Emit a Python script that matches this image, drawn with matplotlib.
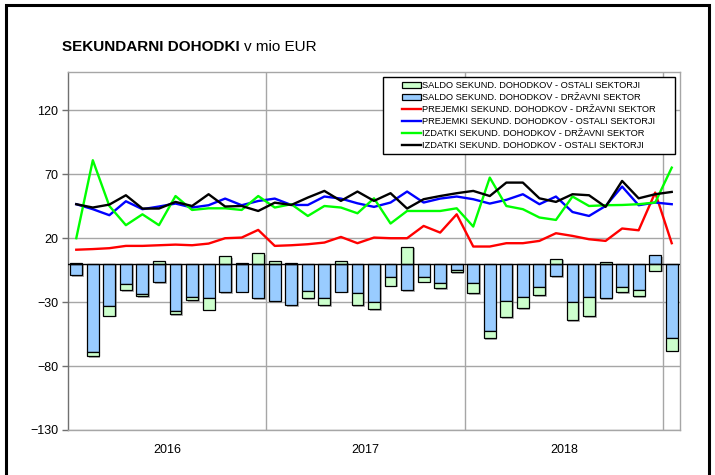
import numpy as np
import matplotlib
matplotlib.use("Agg")
import matplotlib.pyplot as plt
import matplotlib.patheffects as pe
from matplotlib.patches import Patch, Rectangle
from matplotlib.lines import Line2D

plt.rcParams["font.family"] = ["Liberation Sans", "DejaVu Sans"]

# ===================== DATA (mio EUR, monthly Jan 2016 - Jan 2019) =====================
years = ["2016", "2017", "2018"]

saldo_drzavni = [
    -9.0, -69.3, -32.9, -16.2, -23.8, -14.6, -37.3, -26.3, -26.9, -22.4, -21.9, -26.9,
    -29.2, -32.3, -21.2, -27.1, -21.7, -23.0, -30.2, -10.2, -20.6, -10.7, -15.4, -4.8,
    -15.2, -52.9, -29.2, -26.3, -18.5, -9.9, -30.2, -25.8, -27.1, -18.0, -20.4, 7.0,
    -58.4,
]
saldo_ostali = [
    0.5, -3.0, -7.8, -4.4, -1.3, 1.8, -2.3, -1.9, -9.1, 6.2, 0.5, 8.3,
    1.8, 0.5, -5.7, -5.2, 2.3, -9.3, -5.3, -7.0, 13.5, -3.4, -3.7, -2.0,
    -7.8, -5.2, -12.8, -8.4, -5.8, 3.9, -13.8, -15.4, 1.6, -4.4, -5.1, -5.5,
    -9.6,
]
prejemki_drzavni = [
    11.0, 11.5, 12.2, 14.0, 14.0, 14.5, 15.0, 14.5, 15.8, 20.0, 20.5, 26.5,
    14.0, 14.5, 15.3, 16.6, 21.0, 16.1, 20.5, 20.0, 20.0, 29.6, 24.4, 38.7,
    13.5, 13.5, 16.1, 16.1, 17.9, 23.9, 21.8, 19.2, 17.9, 27.6, 26.2, 55.7,
    16.1,
]
prejemki_ostali = [
    46.6, 42.7, 38.0, 48.9, 42.7, 44.8, 47.1, 44.0, 45.8, 51.0, 45.8, 49.1,
    51.0, 46.0, 46.0, 52.6, 51.0, 47.3, 44.5, 47.9, 56.5, 47.9, 51.0, 52.6,
    50.5, 47.1, 50.0, 54.4, 46.6, 52.6, 40.5, 37.4, 45.2, 60.4, 45.8, 47.9,
    46.6,
]
izdatki_drzavni = [
    20.0, 81.0, 45.2, 30.2, 38.7, 30.2, 53.0, 42.1, 43.4, 43.4, 42.1, 53.0,
    44.0, 46.6, 37.4, 45.2, 44.0, 39.5, 51.2, 31.5, 41.3, 41.3, 41.3, 43.4,
    29.1, 67.4, 45.2, 42.7, 36.2, 34.3, 52.6, 45.2, 45.8, 46.0, 46.6, 47.9,
    75.2,
]
izdatki_ostali = [
    46.6, 44.0, 46.3, 53.6, 43.2, 43.2, 48.4, 45.2, 54.4, 44.8, 45.2, 41.3,
    47.8, 46.0, 51.8, 57.0, 49.2, 56.5, 49.2, 55.2, 43.2, 50.5, 53.0, 55.2,
    57.0, 53.0, 63.5, 63.5, 51.2, 48.4, 54.4, 53.6, 44.5, 64.8, 51.2, 54.4,
    56.2,
]

labels = [
    "SALDO SEKUND. DOHODKOV - OSTALI SEKTORJI",
    "SALDO SEKUND. DOHODKOV - DRŽAVNI SEKTOR",
    "PREJEMKI SEKUND. DOHODKOV - DRŽAVNI SEKTOR",
    "PREJEMKI SEKUND. DOHODKOV - OSTALI SEKTORJI",
    "IZDATKI SEKUND. DOHODKOV - DRŽAVNI SEKTOR",
    "IZDATKI SEKUND. DOHODKOV - OSTALI SEKTORJI",
]

# ===================== PLOT =====================
W, H = 715, 475
n = len(saldo_drzavni)
x = np.arange(n)
sd = np.array(saldo_drzavni)
so = np.array(saldo_ostali)
# stack green on blue only where both have the same sign
bottom_o = np.where(np.sign(so) == np.sign(sd), sd, 0.0)

fig = plt.figure(figsize=(W/100, H/100), dpi=100)
ax_l, ax_t, ax_r, ax_b = 68, 72, 680, 430
ax = fig.add_axes([ax_l/W, 1 - ax_b/H, (ax_r - ax_l)/W, (ax_b - ax_t)/H])

def ax_frac(px, py):
    # pixel position (from top-left) -> axes fraction
    return (px - ax_l) / (ax_r - ax_l), (ax_b - py) / (ax_b - ax_t)

GRID = "#a6a6a6"
GREEN = "#00ff00"
shadow = [pe.SimplePatchShadow(offset=(1.2, -1.2), shadow_rgbFace="#808080", alpha=0.6), pe.Normal()]

ax.bar(x, sd, width=0.72, color="#99ccff", edgecolor="black", linewidth=0.9,
       zorder=3, path_effects=shadow)
ax.bar(x, so, width=0.72, bottom=bottom_o, color="#ccffcc", edgecolor="black",
       linewidth=0.9, zorder=3, path_effects=shadow)

lw = 1.7
ax.plot(x, prejemki_drzavni, color="#ff0000", lw=lw, zorder=5)
ax.plot(x, prejemki_ostali, color="#0000ff", lw=lw, zorder=5)
ax.plot(x, izdatki_drzavni, color=GREEN, lw=lw, zorder=5)
ax.plot(x, izdatki_ostali, color="black", lw=lw, zorder=5)

ax.axhline(0, color="black", lw=1.0, zorder=4)

ax.set_xlim(-0.5, n - 0.5)
ax.set_ylim(-130, 150)
ax.set_yticks(np.arange(-130, 121, 50))
ax.yaxis.grid(True, color=GRID, lw=1.0, zorder=0)
for b in [11.5, 23.5, 35.5]:
    ax.axvline(b, color=GRID, lw=1.0, zorder=0)

ax.set_xticks([5.5, 17.5, 29.5])
ax.set_xticklabels(years)
ax.tick_params(axis="x", length=0, pad=10, labelsize=9)
ax.tick_params(axis="y", length=4, width=1, color="#707070", labelsize=9, pad=3)

for s in ["top", "right", "bottom"]:
    ax.spines[s].set_color(GRID)
ax.spines["left"].set_color("#707070")
for s in ax.spines.values():
    s.set_linewidth(1.0)

# legend box (drawn separately, the original has a wide empty left margin)
bx0, by0 = ax_frac(383, 154)
bx1, by1 = ax_frac(675, 77)
ax.add_patch(Rectangle((bx0, by0), bx1 - bx0, by1 - by0, transform=ax.transAxes,
                       facecolor="white", edgecolor="black", lw=1.0, zorder=9))

handles = [
    Patch(facecolor="#ccffcc", edgecolor="black", lw=0.9),
    Patch(facecolor="#99ccff", edgecolor="black", lw=0.9),
    Line2D([], [], color="#ff0000", lw=lw),
    Line2D([], [], color="#0000ff", lw=lw),
    Line2D([], [], color=GREEN, lw=lw),
    Line2D([], [], color="black", lw=lw),
]
lx, ly = ax_frac(402, 81)
leg = ax.legend(handles, labels, loc="upper left", bbox_to_anchor=(lx, ly),
                borderaxespad=0, borderpad=0, fontsize=6.7, frameon=False,
                labelspacing=0.33, handlelength=2.0, handleheight=0.55,
                handletextpad=0.15)
leg.set_zorder(10)

# title: bold part + normal part
ty = 1 - 47/H
t1 = fig.text(62/W, ty, "SEKUNDARNI DOHODKI", fontsize=11,
              fontweight="bold", va="center", ha="left")
fig.canvas.draw()
bb = t1.get_window_extent()
fig.text((bb.x1 + 4) / W, ty, "v mio EUR", fontsize=11, va="center", ha="left")

# outer frame
fig.patches.append(Rectangle((6/W, -0.02), 703/W, 1.02 - 5/H, fill=False,
                             edgecolor="black", lw=2.2, transform=fig.transFigure))

fig.savefig("out.png", dpi=100)
